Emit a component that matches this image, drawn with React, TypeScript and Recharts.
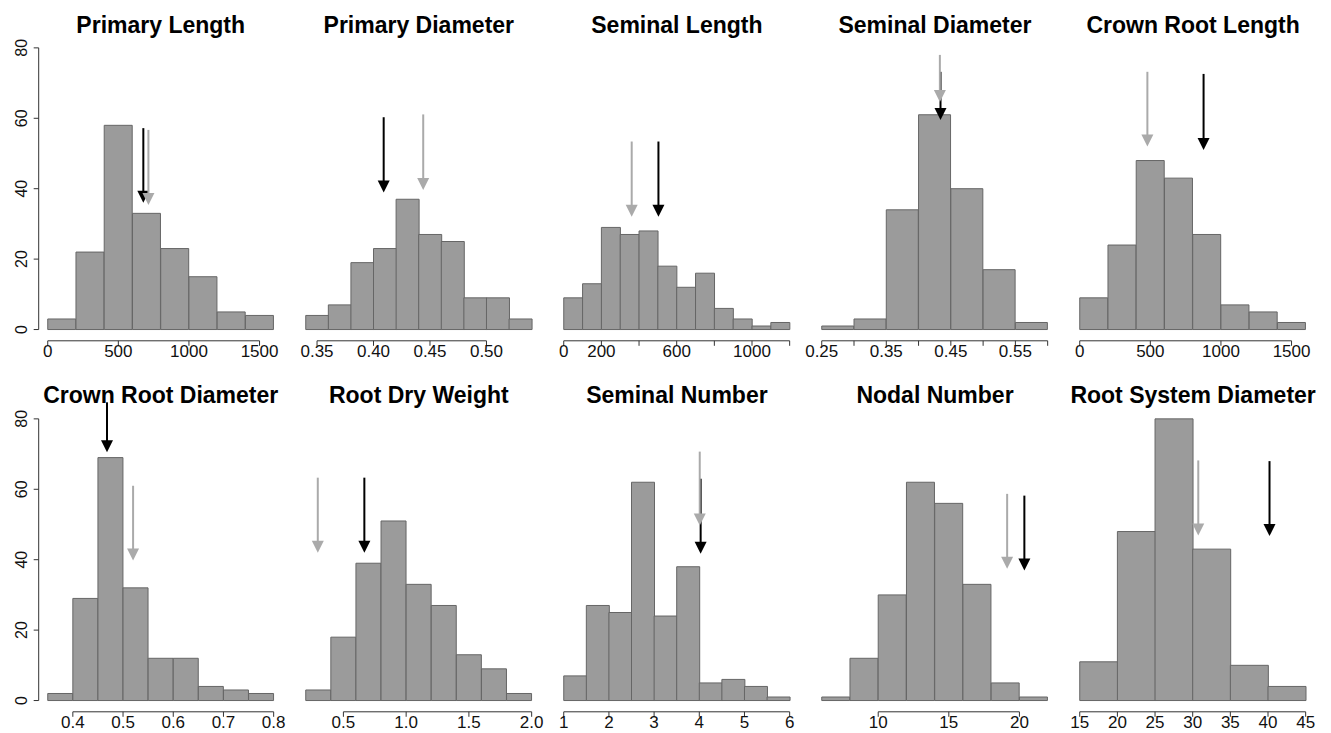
import React from "react";
import { ComposedChart, Bar, XAxis, YAxis, ReferenceLine } from "recharts";

const titles = [
  "Primary Length",
  "Primary Diameter",
  "Seminal Length",
  "Seminal Diameter",
  "Crown Root Length",
  "Crown Root Diameter",
  "Root Dry Weight",
  "Seminal Number",
  "Nodal Number",
  "Root System Diameter",
];

// bin edges, counts per bin, x ticks and their labels ("" = tick without label)
const primaryLengthEdges = [0, 200, 400, 600, 800, 1000, 1200, 1400, 1600];
const primaryLengthCounts = [3, 22, 58, 33, 23, 15, 5, 4];
const primaryLengthTicks = [0, 500, 1000, 1500];
const primaryLengthLabels = ["0", "500", "1000", "1500"];

const primaryDiameterEdges = [0.34, 0.36, 0.38, 0.4, 0.42, 0.44, 0.46, 0.48, 0.5, 0.52, 0.54];
const primaryDiameterCounts = [4, 7, 19, 23, 37, 27, 25, 9, 9, 3];
const primaryDiameterTicks = [0.35, 0.4, 0.45, 0.5];
const primaryDiameterLabels = ["0.35", "0.40", "0.45", "0.50"];

const seminalLengthEdges = [0, 100, 200, 300, 400, 500, 600, 700, 800, 900, 1000, 1100, 1200];
const seminalLengthCounts = [9, 13, 29, 27, 28, 18, 12, 16, 6, 3, 1, 2];
const seminalLengthTicks = [0, 200, 400, 600, 800, 1000, 1200];
const seminalLengthLabels = ["0", "200", "", "600", "", "1000", ""];

const seminalDiameterEdges = [0.25, 0.3, 0.35, 0.4, 0.45, 0.5, 0.55, 0.6];
const seminalDiameterCounts = [1, 3, 34, 61, 40, 17, 2];
const seminalDiameterTicks = [0.25, 0.3, 0.35, 0.4, 0.45, 0.5, 0.55, 0.6];
const seminalDiameterLabels = ["0.25", "", "0.35", "", "0.45", "", "0.55", ""];

const crownLengthEdges = [0, 200, 400, 600, 800, 1000, 1200, 1400, 1600];
const crownLengthCounts = [9, 24, 48, 43, 27, 7, 5, 2];
const crownLengthTicks = [0, 500, 1000, 1500];
const crownLengthLabels = ["0", "500", "1000", "1500"];

const crownDiameterEdges = [0.35, 0.4, 0.45, 0.5, 0.55, 0.6, 0.65, 0.7, 0.75, 0.8];
const crownDiameterCounts = [2, 29, 69, 32, 12, 12, 4, 3, 2];
const crownDiameterTicks = [0.4, 0.5, 0.6, 0.7, 0.8];
const crownDiameterLabels = ["0.4", "0.5", "0.6", "0.7", "0.8"];

const dryWeightEdges = [0.2, 0.4, 0.6, 0.8, 1.0, 1.2, 1.4, 1.6, 1.8, 2.0];
const dryWeightCounts = [3, 18, 39, 51, 33, 27, 13, 9, 2];
const dryWeightTicks = [0.5, 1.0, 1.5, 2.0];
const dryWeightLabels = ["0.5", "1.0", "1.5", "2.0"];

const seminalNumberEdges = [1, 1.5, 2, 2.5, 3, 3.5, 4, 4.5, 5, 5.5, 6];
const seminalNumberCounts = [7, 27, 25, 62, 24, 38, 5, 6, 4, 1];
const seminalNumberTicks = [1, 2, 3, 4, 5, 6];
const seminalNumberLabels = ["1", "2", "3", "4", "5", "6"];

const nodalNumberEdges = [6, 8, 10, 12, 14, 16, 18, 20, 22];
const nodalNumberCounts = [1, 12, 30, 62, 56, 33, 5, 1];
const nodalNumberTicks = [10, 15, 20];
const nodalNumberLabels = ["10", "15", "20"];

const systemDiameterEdges = [15, 20, 25, 30, 35, 40, 45];
const systemDiameterCounts = [11, 48, 80, 43, 10, 4];
const systemDiameterTicks = [15, 20, 25, 30, 35, 40, 45];
const systemDiameterLabels = ["15", "20", "25", "30", "35", "40", "45"];

// arrow markers per panel: [value, shaft top, tip] in count units
const darkArrows = [
  [677, 57.2, 36],
  [0.409, 60.3, 38.9],
  [503, 53.4, 32],
  [0.434, 73.2, 59.5],
  [877, 72.6, 51],
  [0.468, 84.7, 70.5],
  [0.667, 63.3, 42],
  [4.03, 63, 41.7],
  [20.35, 58.2, 36.9],
  [40.2, 68, 46.7],
];
const lightArrows = [
  [713, 56.7, 35.4],
  [0.444, 61.1, 39.6],
  [361, 53.4, 32],
  [0.433, 78, 64.6],
  [479, 73.2, 52],
  [0.52, 61, 39.8],
  [0.296, 63.3, 42],
  [4.01, 70.7, 49.7],
  [19.13, 58.7, 37.4],
  [30.74, 68.2, 46.9],
];

const yTicks = [0, 20, 40, 60, 80];

const panels = [
  [primaryLengthEdges, primaryLengthCounts, primaryLengthTicks, primaryLengthLabels],
  [primaryDiameterEdges, primaryDiameterCounts, primaryDiameterTicks, primaryDiameterLabels],
  [seminalLengthEdges, seminalLengthCounts, seminalLengthTicks, seminalLengthLabels],
  [seminalDiameterEdges, seminalDiameterCounts, seminalDiameterTicks, seminalDiameterLabels],
  [crownLengthEdges, crownLengthCounts, crownLengthTicks, crownLengthLabels],
  [crownDiameterEdges, crownDiameterCounts, crownDiameterTicks, crownDiameterLabels],
  [dryWeightEdges, dryWeightCounts, dryWeightTicks, dryWeightLabels],
  [seminalNumberEdges, seminalNumberCounts, seminalNumberTicks, seminalNumberLabels],
  [nodalNumberEdges, nodalNumberCounts, nodalNumberTicks, nodalNumberLabels],
  [systemDiameterEdges, systemDiameterCounts, systemDiameterTicks, systemDiameterLabels],
].map(([edges, counts, ticks, labels], i) => ({
  title: titles[i],
  edges: edges as number[],
  counts: counts as number[],
  ticks: ticks as number[],
  labels: labels as string[],
  dark: darkArrows[i],
  light: lightArrows[i],
}));

const FONT = '"Liberation Sans", Arial, Helvetica, sans-serif';
const AXIS = "#333";
const COL_STEP = 258.1;
const ROW_STEP = 370.5;
const PLOT_LEFT = 38.7;
const PLOT_W = 244;
const PLOT_TOP = 36.6;
const PLOT_H = 304.2;
const CHART_W = 290;
const CHART_H = 365;

const arrowShape = (color: string) => (props: any) => {
  const { x1, y1, x2, y2 } = props;
  const head = 12;
  const half = 6;
  return (
    <g>
      <line x1={x1} y1={y1} x2={x2} y2={y2 - head + 1} stroke={color} strokeWidth={2} />
      <polygon
        points={`${x2 - half},${y2 - head} ${x2 + half},${y2 - head} ${x2},${y2}`}
        fill={color}
      />
    </g>
  );
};

const plainLine = (props: any) => (
  <line x1={props.x1} y1={props.y1} x2={props.x2} y2={props.y2} stroke={AXIS} strokeWidth={1} />
);

const YTick = ({ x, y, payload }: any) => (
  <text
    x={x}
    y={y}
    transform={`rotate(-90 ${x} ${y})`}
    textAnchor="middle"
    fontFamily={FONT}
    fontSize={16}
    fill="#111"
  >
    {payload.value}
  </text>
);

const makeXTick = (ticks: number[], labels: string[]) => ({ x, y, payload }: any) => {
  const idx = ticks.findIndex((t) => Math.abs(t - payload.value) < 1e-9);
  const label = idx >= 0 ? labels[idx] : "";
  return (
    <text x={x} y={y} dy={11.5} textAnchor="middle" fontFamily={FONT} fontSize={17} fill="#111">
      {label}
    </text>
  );
};

type Panel = (typeof panels)[number];

const Histogram = ({ panel, col, row }: { panel: Panel; col: number; row: number }) => {
  const { edges, counts, ticks, labels, dark, light } = panel;
  const data = counts.map((count, i) => ({ mid: (edges[i] + edges[i + 1]) / 2, count }));
  const lo = edges[0];
  const hi = edges[edges.length - 1];
  const pad = 0.04 * (hi - lo);
  const xDomain: [number, number] = [lo - pad, hi + pad];
  const yDomain: [number, number] = [-0.04 * 80, 80 * 1.04];
  const showY = col === 0;

  return (
    <div style={{ position: "absolute", left: col * COL_STEP, top: row * ROW_STEP }}>
      <div
        style={{
          position: "absolute",
          left: PLOT_LEFT - 40,
          width: PLOT_W + 80,
          top: 13.5,
          textAlign: "center",
          fontFamily: FONT,
          fontWeight: "bold",
          fontSize: 23,
          lineHeight: "23px",
          whiteSpace: "nowrap",
          color: "#000",
        }}
      >
        {panel.title}
      </div>
      <ComposedChart
        width={CHART_W}
        height={CHART_H}
        data={data}
        barCategoryGap={0}
        barGap={0}
        margin={{
          top: PLOT_TOP,
          right: CHART_W - PLOT_LEFT - PLOT_W,
          bottom: 0,
          left: showY ? 0 : PLOT_LEFT,
        }}
      >
        <XAxis
          dataKey="mid"
          type="number"
          domain={xDomain}
          allowDataOverflow
          ticks={ticks}
          interval={0}
          height={CHART_H - PLOT_TOP - PLOT_H}
          axisLine={false}
          tickLine={{ stroke: AXIS }}
          tickSize={5}
          tickMargin={0}
          tick={makeXTick(ticks, labels)}
        />
        <YAxis
          type="number"
          domain={yDomain}
          allowDataOverflow
          ticks={yTicks}
          interval={0}
          hide={!showY}
          width={PLOT_LEFT}
          axisLine={false}
          tickLine={{ stroke: AXIS }}
          tickSize={5}
          tickMargin={7}
          tick={<YTick />}
        />
        <Bar dataKey="count" fill="#9b9b9b" stroke="#666" strokeWidth={1} isAnimationActive={false} />
        <ReferenceLine
          segment={[
            { x: ticks[0], y: yDomain[0] },
            { x: ticks[ticks.length - 1], y: yDomain[0] },
          ]}
          ifOverflow="visible"
          shape={plainLine}
        />
        {showY && (
          <ReferenceLine
            segment={[
              { x: xDomain[0], y: 0 },
              { x: xDomain[0], y: 80 },
            ]}
            ifOverflow="visible"
            shape={plainLine}
          />
        )}
        <ReferenceLine
          segment={[
            { x: dark[0], y: dark[1] },
            { x: dark[0], y: dark[2] },
          ]}
          ifOverflow="visible"
          shape={arrowShape("#000")}
        />
        <ReferenceLine
          segment={[
            { x: light[0], y: light[1] },
            { x: light[0], y: light[2] },
          ]}
          ifOverflow="visible"
          shape={arrowShape("#aaaaaa")}
        />
      </ComposedChart>
    </div>
  );
};

export default function App() {
  return (
    <div
      style={{
        position: "absolute",
        left: 0,
        top: 0,
        width: 1331,
        height: 733,
        overflow: "hidden",
        background: "#fff",
      }}
    >
      {panels.map((p, i) => (
        <Histogram key={p.title} panel={p} col={i % 5} row={Math.floor(i / 5)} />
      ))}
    </div>
  );
}
